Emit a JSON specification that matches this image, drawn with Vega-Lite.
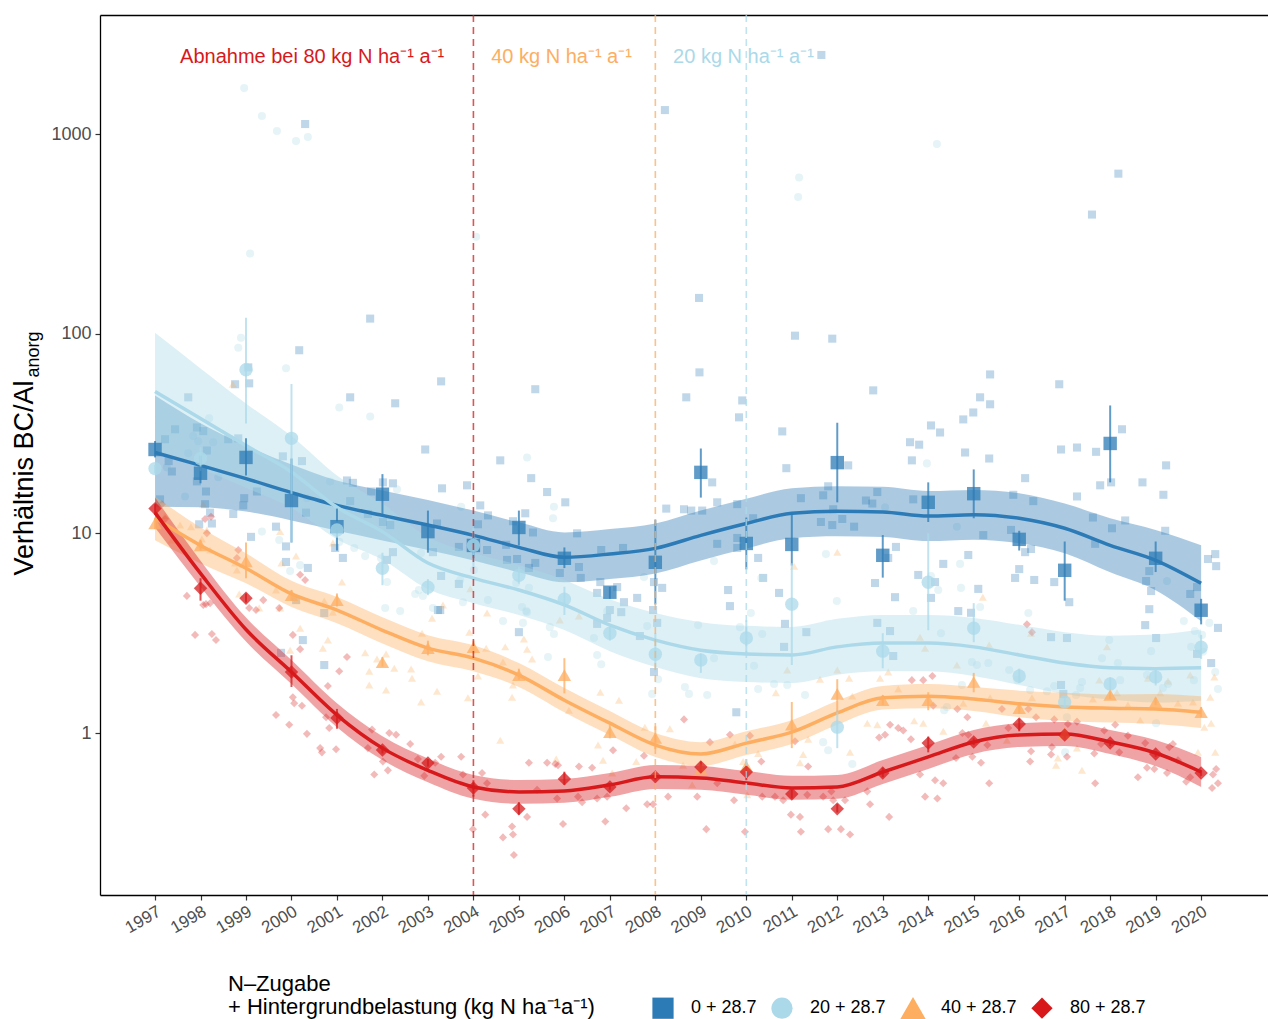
{
"$schema":"https://vega.github.io/schema/vega-lite/v6.json",
"width":1168,"height":880,
"autosize":{"type":"none"},
"padding":{"left":100,"top":15,"right":0,"bottom":124},
"background":"white",
"config":{"font":"Liberation Sans","view":{"stroke":null},
"axis":{"grid":false,"domainColor":"black","domainWidth":1.3,"tickColor":"#333333","tickWidth":1.2,"tickSize":5,"labelColor":"#4d4d4d","labelFont":"Liberation Sans","titleFont":"Liberation Sans","titleFontWeight":"normal","titleColor":"black"}},
"datasets":{
"pts":[
{"g":0,"x":1997.73,"y":48},{"g":0,"x":1999.05,"y":67.8},{"g":0,"x":1999.07,"y":56.4},{"g":0,"x":1998.76,"y":55.8},{"g":0,"x":2000.17,"y":82.6},{"g":0,"x":2001.29,"y":48},{"g":0,"x":2002.28,"y":44.8},{"g":0,"x":2002.94,"y":26.3},{"g":0,"x":2003.29,"y":57.7},{"g":0,"x":2003.31,"y":16.8},{"g":0,"x":2003.86,"y":17.4},{"g":0,"x":2004.15,"y":13.8},{"g":0,"x":2004.32,"y":12.3},{"g":0,"x":2004.59,"y":23.2},{"g":0,"x":1997.92,"y":33.9},{"g":0,"x":1998.06,"y":32.5},{"g":0,"x":1998.14,"y":26},{"g":0,"x":1997.92,"y":18.2},{"g":0,"x":1998.12,"y":16.2},{"g":0,"x":1998.1,"y":14},{"g":0,"x":1998.21,"y":12.7},{"g":0,"x":1997.97,"y":11.1},{"g":0,"x":1998.25,"y":11.2},{"g":0,"x":1998.61,"y":29.6},{"g":0,"x":1998.83,"y":29.9},{"g":0,"x":1999.24,"y":16.2},{"g":0,"x":1998.96,"y":15},{"g":0,"x":1998.94,"y":13.8},{"g":0,"x":1998.72,"y":12.5},{"g":0,"x":1999.11,"y":9.6},{"g":0,"x":1999.66,"y":10.8},{"g":0,"x":1999.88,"y":8.6},{"g":0,"x":1999.81,"y":24.3},{"g":0,"x":2000.23,"y":23},{"g":0,"x":2000.32,"y":12.7},{"g":0,"x":1999.88,"y":7.19},{"g":0,"x":2000.36,"y":6.71},{"g":0,"x":2000.96,"y":8.45},{"g":0,"x":2001.13,"y":7.53},{"g":0,"x":2001.22,"y":18.4},{"g":0,"x":2001.35,"y":17.9},{"g":0,"x":2001.29,"y":14.5},{"g":0,"x":2001.75,"y":16.2},{"g":0,"x":2001.68,"y":12.5},{"g":0,"x":2002.01,"y":18},{"g":0,"x":2002.23,"y":17.8},{"g":0,"x":2002.01,"y":11.4},{"g":0,"x":2002.17,"y":11},{"g":0,"x":2002.23,"y":8.05},{"g":0,"x":2002.1,"y":7.36},{"g":0,"x":2003.2,"y":11.2},{"g":0,"x":2003.11,"y":8.05},{"g":0,"x":2003.29,"y":6.12},{"g":0,"x":2003.68,"y":8.55},{"g":0,"x":2003.68,"y":5.58},{"g":0,"x":2004.1,"y":11.1},{"g":0,"x":2004.3,"y":8.25},{"g":0,"x":2003.22,"y":4.13},{"g":0,"x":2000.3,"y":1122},{"g":0,"x":2008.21,"y":1318},{"g":0,"x":2008.96,"y":151},{"g":0,"x":2011.65,"y":2488},{"g":0,"x":2018.18,"y":633},{"g":0,"x":2017.6,"y":395},{"g":0,"x":2011.07,"y":97.7},{"g":0,"x":2011.89,"y":94.4},{"g":0,"x":2001.73,"y":119},{"g":0,"x":2005.36,"y":52.7},{"g":0,"x":2012.79,"y":52},{"g":0,"x":2016.88,"y":55.8},{"g":0,"x":2015.36,"y":62.5},{"g":0,"x":2005.27,"y":18.9},{"g":0,"x":2005.62,"y":16.1},{"g":0,"x":2006.02,"y":14.3},{"g":0,"x":2005.14,"y":12.6},{"g":0,"x":2004.87,"y":11.5},{"g":0,"x":2005.31,"y":10.1},{"g":0,"x":2004.72,"y":8.76},{"g":0,"x":2004.74,"y":7.36},{"g":0,"x":2004.96,"y":7.44},{"g":0,"x":2005.36,"y":7.11},{"g":0,"x":2005.22,"y":6.71},{"g":0,"x":2005.9,"y":6.33},{"g":0,"x":2006.28,"y":10},{"g":0,"x":2006.32,"y":6.78},{"g":0,"x":2006.36,"y":5.98},{"g":0,"x":2006.81,"y":8.25},{"g":0,"x":2006.79,"y":5.7},{"g":0,"x":2006.72,"y":5.03},{"g":0,"x":2007.16,"y":5.38},{"g":0,"x":2007.29,"y":8.45},{"g":0,"x":2007.31,"y":4.52},{"g":0,"x":2007.6,"y":4.75},{"g":0,"x":2007.0,"y":4.13},{"g":0,"x":2007.97,"y":5.7},{"g":0,"x":2008.15,"y":5.33},{"g":0,"x":2007.95,"y":4.13},{"g":0,"x":2008.24,"y":13.3},{"g":0,"x":2008.63,"y":13.2},{"g":0,"x":2008.79,"y":13},{"g":0,"x":2009.03,"y":13},{"g":0,"x":2008.68,"y":48},{"g":0,"x":2008.97,"y":64},{"g":0,"x":2009.25,"y":18},{"g":0,"x":2009.36,"y":14.3},{"g":0,"x":2009.36,"y":8.86},{"g":0,"x":2009.8,"y":14},{"g":0,"x":2009.8,"y":9.48},{"g":0,"x":2009.8,"y":8.45},{"g":0,"x":2009.84,"y":38.1},{"g":0,"x":2009.91,"y":46.3},{"g":0,"x":2010.15,"y":11.9},{"g":0,"x":2010.26,"y":7.53},{"g":0,"x":2010.37,"y":5.98},{"g":0,"x":2009.6,"y":5.2},{"g":0,"x":2009.64,"y":4.32},{"g":0,"x":2010.72,"y":5.03},{"g":0,"x":2010.79,"y":32.4},{"g":0,"x":2010.88,"y":21.2},{"g":0,"x":2011.2,"y":15},{"g":0,"x":2011.64,"y":11.4},{"g":0,"x":2011.69,"y":15.5},{"g":0,"x":2011.8,"y":17.2},{"g":0,"x":2011.89,"y":11},{"g":0,"x":2011.91,"y":13.2},{"g":0,"x":2012.11,"y":11.8},{"g":0,"x":2012.24,"y":21.9},{"g":0,"x":2012.37,"y":10.8},{"g":0,"x":2012.63,"y":14.6},{"g":0,"x":2012.77,"y":14.1},{"g":0,"x":2012.88,"y":16.1},{"g":0,"x":2013.12,"y":7.53},{"g":0,"x":2013.27,"y":4.79},{"g":0,"x":2013.29,"y":8.55},{"g":0,"x":2012.83,"y":5.64},{"g":0,"x":2013.67,"y":14.8},{"g":0,"x":2014.06,"y":34.7},{"g":0,"x":2014.26,"y":32},{"g":0,"x":2013.6,"y":28.6},{"g":0,"x":2013.8,"y":27.8},{"g":0,"x":2013.64,"y":23.2},{"g":0,"x":2014.77,"y":37.2},{"g":0,"x":2014.99,"y":40.3},{"g":0,"x":2015.14,"y":48},{"g":0,"x":2015.36,"y":44.3},{"g":0,"x":2014.81,"y":25.4},{"g":0,"x":2015.34,"y":23.7},{"g":0,"x":2015.87,"y":15.6},{"g":0,"x":2016.31,"y":14.5},{"g":0,"x":2016.13,"y":18.9},{"g":0,"x":2015.82,"y":10.4},{"g":0,"x":2015.21,"y":9.8},{"g":0,"x":2014.88,"y":7.79},{"g":0,"x":2014.33,"y":7.03},{"g":0,"x":2013.78,"y":6.19},{"g":0,"x":2014.15,"y":5.7},{"g":0,"x":2014.06,"y":4.75},{"g":0,"x":2015.1,"y":5.27},{"g":0,"x":2014.66,"y":4.08},{"g":0,"x":2014.94,"y":4},{"g":0,"x":2016.0,"y":6.62},{"g":0,"x":2015.91,"y":5.98},{"g":0,"x":2016.33,"y":5.84},{"g":0,"x":2016.13,"y":8.05},{"g":0,"x":2016.26,"y":8.35},{"g":0,"x":2016.77,"y":5.7},{"g":0,"x":2017.1,"y":4.52},{"g":0,"x":2016.92,"y":26.3},{"g":0,"x":2017.27,"y":26.9},{"g":0,"x":2017.69,"y":25.6},{"g":0,"x":2017.27,"y":15.3},{"g":0,"x":2017.78,"y":17.4},{"g":0,"x":2018.02,"y":18},{"g":0,"x":2018.26,"y":33.2},{"g":0,"x":2017.62,"y":12},{"g":0,"x":2017.67,"y":8.86},{"g":0,"x":2018.04,"y":10.6},{"g":0,"x":2018.33,"y":11.6},{"g":0,"x":2018.71,"y":18},{"g":0,"x":2019.17,"y":15.6},{"g":0,"x":2019.23,"y":21.9},{"g":0,"x":2019.21,"y":10.3},{"g":0,"x":2018.86,"y":6.47},{"g":0,"x":2018.79,"y":5.77},{"g":0,"x":2018.9,"y":5.14},{"g":0,"x":2018.86,"y":4.17},{"g":0,"x":2019.76,"y":4.97},{"g":0,"x":2019.91,"y":5.38},{"g":0,"x":2020.15,"y":7.44},{"g":0,"x":2020.31,"y":7.87},{"g":0,"x":2020.33,"y":6.85},{"g":0,"x":2016.7,"y":3.02},{"g":0,"x":2017.05,"y":2.99},{"g":0,"x":2016.92,"y":1.74},{"g":0,"x":2016.97,"y":1.57},{"g":0,"x":2018.77,"y":3.47},{"g":0,"x":2019.01,"y":2.99},{"g":0,"x":2020.22,"y":2.24},{"g":0,"x":2020.37,"y":3.36},{"g":0,"x":2019.91,"y":2.49},{"g":0,"x":2005.0,"y":3.2},{"g":0,"x":2006.72,"y":3.52},{"g":0,"x":2006.94,"y":3.77},{"g":0,"x":2007.25,"y":4.03},{"g":0,"x":2007.66,"y":3.06},{"g":0,"x":2008.04,"y":3.56},{"g":0,"x":2007.97,"y":2.02},{"g":0,"x":2009.78,"y":1.27},{"g":0,"x":2010.85,"y":3.52},{"g":0,"x":2010.83,"y":2.7},{"g":0,"x":2011.32,"y":3.2},{"g":0,"x":2012.88,"y":3.56},{"g":0,"x":2013.16,"y":3.24},{"g":0,"x":2013.23,"y":2.43},{"g":0,"x":2000.1,"y":4.63},{"g":0,"x":2000.25,"y":2.92},{"g":0,"x":1999.77,"y":2.52},{"g":0,"x":2000.72,"y":2.19},{"g":0,"x":2000.72,"y":3.99},{"g":0,"x":2003.27,"y":4.13},{"g":0,"x":1997.22,"y":29.6},{"g":0,"x":1997.37,"y":20.4},{"g":0,"x":1997.11,"y":14.8},{"g":0,"x":1997.44,"y":33.2},{"g":0,"x":1997.3,"y":23},
{"g":20,"x":1998.96,"y":1698},{"g":20,"x":1999.35,"y":1230},{"g":20,"x":1999.68,"y":1035},{"g":20,"x":2000.1,"y":923},{"g":20,"x":2000.36,"y":966},{"g":20,"x":1999.09,"y":252},{"g":20,"x":2004.06,"y":306},{"g":20,"x":2011.16,"y":605},{"g":20,"x":2011.14,"y":484},{"g":20,"x":2014.19,"y":891},{"g":20,"x":1998.89,"y":95.5},{"g":20,"x":1998.83,"y":85},{"g":20,"x":1999.88,"y":67.1},{"g":20,"x":2001.05,"y":42.7},{"g":20,"x":2001.73,"y":38.5},{"g":20,"x":1998.19,"y":37.7},{"g":20,"x":1997.84,"y":30.7},{"g":20,"x":1997.95,"y":28.9},{"g":20,"x":1998.28,"y":28.6},{"g":20,"x":1997.73,"y":25.2},{"g":20,"x":1997.26,"y":21.4},{"g":20,"x":1998.39,"y":19.1},{"g":20,"x":1997.66,"y":15.3},{"g":20,"x":1999.35,"y":10.2},{"g":20,"x":1999.73,"y":9.26},{"g":20,"x":1999.97,"y":6.47},{"g":20,"x":2000.19,"y":6.93},{"g":20,"x":2000.34,"y":15},{"g":20,"x":2000.85,"y":18.2},{"g":20,"x":2001.05,"y":9.06},{"g":20,"x":2001.38,"y":8.45},{"g":20,"x":2001.62,"y":7.69},{"g":20,"x":2001.97,"y":7.5},{"g":20,"x":2002.1,"y":5.7},{"g":20,"x":2002.32,"y":16.6},{"g":20,"x":2002.8,"y":5.2},{"g":20,"x":2002.72,"y":4.97},{"g":20,"x":2002.89,"y":4.86},{"g":20,"x":2003.73,"y":13.6},{"g":20,"x":2003.71,"y":5.84},{"g":20,"x":2003.77,"y":4.52},{"g":20,"x":2004.32,"y":4.63},{"g":20,"x":2004.01,"y":6.55},{"g":20,"x":2002.85,"y":7.98},{"g":20,"x":2002.06,"y":4.23},{"g":20,"x":2002.39,"y":4.08},{"g":20,"x":2003.11,"y":4.23},{"g":20,"x":2005.18,"y":24},{"g":20,"x":2005.77,"y":13.6},{"g":20,"x":2005.75,"y":11.9},{"g":20,"x":2004.94,"y":5.64},{"g":20,"x":2005.22,"y":5.33},{"g":20,"x":2005.07,"y":4.28},{"g":20,"x":2005.16,"y":4.08},{"g":20,"x":2006.94,"y":4.08},{"g":20,"x":2007.75,"y":6.05},{"g":20,"x":2009.29,"y":7.27},{"g":20,"x":2010.1,"y":3.99},{"g":20,"x":2010.33,"y":5.98},{"g":20,"x":2011.75,"y":7.87},{"g":20,"x":2011.99,"y":4.58},{"g":20,"x":2013.05,"y":13.5},{"g":20,"x":2013.97,"y":22.4},{"g":20,"x":2014.63,"y":10.8},{"g":20,"x":2014.7,"y":7.03},{"g":20,"x":2014.06,"y":6.12},{"g":20,"x":2014.22,"y":5.2},{"g":20,"x":2014.72,"y":5.33},{"g":20,"x":2013.67,"y":4.08},{"g":20,"x":2015.14,"y":4.28},{"g":20,"x":2016.2,"y":3.99},{"g":20,"x":2019.25,"y":5.77},{"g":20,"x":2004.65,"y":3.64},{"g":20,"x":2005.09,"y":3.56},{"g":20,"x":2005.18,"y":4.03},{"g":20,"x":2005.68,"y":3.39},{"g":20,"x":2005.77,"y":3.13},{"g":20,"x":2005.64,"y":2.4},{"g":20,"x":2006.65,"y":2.99},{"g":20,"x":2006.72,"y":2.46},{"g":20,"x":2006.81,"y":2.21},{"g":20,"x":2007.82,"y":3.43},{"g":20,"x":2007.93,"y":1.57},{"g":20,"x":2008.06,"y":1.86},{"g":20,"x":2008.65,"y":1.7},{"g":20,"x":2008.74,"y":1.57},{"g":20,"x":2009.14,"y":1.55},{"g":20,"x":2008.94,"y":3.47},{"g":20,"x":2009.29,"y":2.37},{"g":20,"x":2009.86,"y":3.39},{"g":20,"x":2010.35,"y":3.13},{"g":20,"x":2010.17,"y":2.17},{"g":20,"x":2010.26,"y":1.66},{"g":20,"x":2010.61,"y":1.76},{"g":20,"x":2010.9,"y":1.74},{"g":20,"x":2011.29,"y":1.55},{"g":20,"x":2012.33,"y":0.7},{"g":20,"x":2011.69,"y":0.9},{"g":20,"x":2011.8,"y":0.82},{"g":20,"x":2014.28,"y":3.16},{"g":20,"x":2014.35,"y":1.3},{"g":20,"x":2014.41,"y":1.35},{"g":20,"x":2014.74,"y":1.74},{"g":20,"x":2014.96,"y":2.27},{"g":20,"x":2015.07,"y":2.19},{"g":20,"x":2015.32,"y":2.24},{"g":20,"x":2015.78,"y":2.07},{"g":20,"x":2015.96,"y":1.84},{"g":20,"x":2016.24,"y":1.64},{"g":20,"x":2016.61,"y":1.62},{"g":20,"x":2016.77,"y":1.72},{"g":20,"x":2017.01,"y":0.8},{"g":20,"x":2017.05,"y":1.2},{"g":20,"x":2017.25,"y":1.55},{"g":20,"x":2017.34,"y":1.68},{"g":20,"x":2017.38,"y":1.8},{"g":20,"x":2017.82,"y":2.37},{"g":20,"x":2017.98,"y":2.92},{"g":20,"x":2018.17,"y":2.24},{"g":20,"x":2018.22,"y":1.84},{"g":20,"x":2018.81,"y":1.95},{"g":20,"x":2018.9,"y":2.57},{"g":20,"x":2019.01,"y":1.12},{"g":20,"x":2019.16,"y":1.68},{"g":20,"x":2019.27,"y":1.76},{"g":20,"x":2019.62,"y":3.64},{"g":20,"x":2019.78,"y":2.7},{"g":20,"x":2019.86,"y":3.24},{"g":20,"x":2020.02,"y":3.1},{"g":20,"x":2020.04,"y":2.55},{"g":20,"x":2020.18,"y":3.56},{"g":20,"x":2020.31,"y":2.02},{"g":20,"x":2020.37,"y":1.66},{"g":20,"x":2019.84,"y":1.84},
{"g":40,"x":1998.71,"y":55.8},{"g":40,"x":1998.06,"y":14},{"g":40,"x":1997.79,"y":10.8},{"g":40,"x":1998.14,"y":10.4},{"g":40,"x":1998.03,"y":9.38},{"g":40,"x":1998.01,"y":8.76},{"g":40,"x":1998.21,"y":8.25},{"g":40,"x":1998.76,"y":7.11},{"g":40,"x":1998.8,"y":6.55},{"g":40,"x":1999.75,"y":10.2},{"g":40,"x":2000.1,"y":7.69},{"g":40,"x":1999.78,"y":7.11},{"g":40,"x":2000.91,"y":8.95},{"g":40,"x":2001.11,"y":5.7},{"g":40,"x":1999.29,"y":4.23},{"g":40,"x":2000.12,"y":4.63},{"g":40,"x":1998.85,"y":4.97},{"g":40,"x":2000.72,"y":4.58},{"g":40,"x":1999.66,"y":5.2},{"g":40,"x":2000.91,"y":4.03},{"g":40,"x":2003.33,"y":4.38},{"g":40,"x":2003.93,"y":5.27},{"g":40,"x":2004.3,"y":3.99},{"g":40,"x":1999.75,"y":4.23},{"g":40,"x":2000.19,"y":3.35},{"g":40,"x":1999.97,"y":2.6},{"g":40,"x":2000.69,"y":2.66},{"g":40,"x":2000.8,"y":2.92},{"g":40,"x":2001.71,"y":2.04},{"g":40,"x":2001.88,"y":2.35},{"g":40,"x":2002.08,"y":2.49},{"g":40,"x":2001.71,"y":1.74},{"g":40,"x":2002.08,"y":1.64},{"g":40,"x":2002.26,"y":2.11},{"g":40,"x":2002.63,"y":2.09},{"g":40,"x":2002.65,"y":1.88},{"g":40,"x":2002.85,"y":1.43},{"g":40,"x":2003.2,"y":1.62},{"g":40,"x":2002.87,"y":3.16},{"g":40,"x":2003.09,"y":3.76},{"g":40,"x":2003.88,"y":1.5},{"g":40,"x":2003.91,"y":3.2},{"g":40,"x":2004.1,"y":1.93},{"g":40,"x":2004.28,"y":2.66},{"g":40,"x":2004.59,"y":0.92},{"g":40,"x":2001.62,"y":2.52},{"g":40,"x":1997.22,"y":12.3},{"g":40,"x":1997.37,"y":9.26},{"g":40,"x":1997.55,"y":11},{"g":40,"x":2004.7,"y":2.7},{"g":40,"x":2005.11,"y":2.96},{"g":40,"x":2005.18,"y":2.63},{"g":40,"x":2005.29,"y":2.35},{"g":40,"x":2004.65,"y":2.27},{"g":40,"x":2004.85,"y":1.51},{"g":40,"x":2004.87,"y":1.74},{"g":40,"x":2005.9,"y":3.68},{"g":40,"x":2006.32,"y":3.85},{"g":40,"x":2006.1,"y":1.3},{"g":40,"x":2005.82,"y":0.74},{"g":40,"x":2006.79,"y":1.6},{"g":40,"x":2007.2,"y":1.46},{"g":40,"x":2006.74,"y":0.87},{"g":40,"x":2006.85,"y":0.73},{"g":40,"x":2007.05,"y":0.63},{"g":40,"x":2007.77,"y":1.07},{"g":40,"x":2008.32,"y":1.05},{"g":40,"x":2007.58,"y":0.72},{"g":40,"x":2008.61,"y":0.69},{"g":40,"x":2008.81,"y":0.55},{"g":40,"x":2009.75,"y":0.88},{"g":40,"x":2009.93,"y":0.72},{"g":40,"x":2010.26,"y":0.79},{"g":40,"x":2010.02,"y":0.49},{"g":40,"x":2010.65,"y":1.59},{"g":40,"x":2010.9,"y":2.07},{"g":40,"x":2011.18,"y":0.71},{"g":40,"x":2011.25,"y":0.78},{"g":40,"x":2011.36,"y":0.93},{"g":40,"x":2011.62,"y":1.86},{"g":40,"x":2012.28,"y":0.8},{"g":40,"x":2012.33,"y":1.53},{"g":40,"x":2012.26,"y":1.88},{"g":40,"x":2012.0,"y":2.07},{"g":40,"x":2012.94,"y":1.88},{"g":40,"x":2013.12,"y":2.02},{"g":40,"x":2012.66,"y":1.12},{"g":40,"x":2012.88,"y":1.1},{"g":40,"x":2013.34,"y":1.66},{"g":40,"x":2013.82,"y":3.02},{"g":40,"x":2013.93,"y":2.66},{"g":40,"x":2014.63,"y":2.19},{"g":40,"x":2015.34,"y":2.76},{"g":40,"x":2013.69,"y":1.15},{"g":40,"x":2013.89,"y":1.12},{"g":40,"x":2014.33,"y":1.02},{"g":40,"x":2014.77,"y":1.41},{"g":40,"x":2015.27,"y":1.12},{"g":40,"x":2015.36,"y":1.5},{"g":40,"x":2015.73,"y":0.92},{"g":40,"x":2016.26,"y":3.16},{"g":40,"x":2016.28,"y":1.5},{"g":40,"x":2016.85,"y":0.75},{"g":40,"x":2016.81,"y":0.69},{"g":40,"x":2017.27,"y":0.84},{"g":40,"x":2017.38,"y":0.65},{"g":40,"x":2017.62,"y":1.48},{"g":40,"x":2017.76,"y":1.84},{"g":40,"x":2017.93,"y":2.7},{"g":40,"x":2018.15,"y":1.59},{"g":40,"x":2018.39,"y":1.38},{"g":40,"x":2018.66,"y":1.16},{"g":40,"x":2018.83,"y":1.88},{"g":40,"x":2019.1,"y":1.59},{"g":40,"x":2019.27,"y":1.82},{"g":40,"x":2019.49,"y":1.41},{"g":40,"x":2019.76,"y":1.95},{"g":40,"x":2019.82,"y":1.43},{"g":40,"x":2019.93,"y":0.8},{"g":40,"x":2020.07,"y":1.07},{"g":40,"x":2020.2,"y":1.51},{"g":40,"x":2020.22,"y":1.12},{"g":40,"x":2020.31,"y":0.8},{"g":40,"x":2020.29,"y":1.91},{"g":40,"x":2011.05,"y":6.85},{"g":40,"x":2012.0,"y":8.05},{"g":40,"x":2015.2,"y":4.79},
{"g":80,"x":1997.15,"y":14},{"g":80,"x":1997.22,"y":11.8},{"g":80,"x":1997.88,"y":3.1},{"g":80,"x":1998.06,"y":4.38},{"g":80,"x":1998.21,"y":4.47},{"g":80,"x":1998.25,"y":3.13},{"g":80,"x":1998.34,"y":2.92},{"g":80,"x":1997.7,"y":4.86},{"g":80,"x":1998.12,"y":4.42},{"g":80,"x":1998.1,"y":11.8},{"g":80,"x":1998.23,"y":12.1},{"g":80,"x":1998.14,"y":10},{"g":80,"x":1998.83,"y":8.25},{"g":80,"x":1998.8,"y":7.53},{"g":80,"x":2000.19,"y":6.2},{"g":80,"x":2000.3,"y":5.84},{"g":80,"x":1999.38,"y":4.63},{"g":80,"x":1999.22,"y":4.13},{"g":80,"x":1999.07,"y":4.23},{"g":80,"x":1999.73,"y":4.23},{"g":80,"x":2000.03,"y":3.1},{"g":80,"x":2000.19,"y":2.63},{"g":80,"x":2000.03,"y":1.51},{"g":80,"x":2000.23,"y":1.37},{"g":80,"x":2000.06,"y":1.41},{"g":80,"x":1999.66,"y":1.23},{"g":80,"x":1999.95,"y":1.1},{"g":80,"x":2000.34,"y":0.99},{"g":80,"x":2000.8,"y":1.72},{"g":80,"x":2001.05,"y":2.04},{"g":80,"x":2001.22,"y":2.4},{"g":80,"x":2000.76,"y":1.2},{"g":80,"x":2000.83,"y":1.06},{"g":80,"x":2000.63,"y":0.84},{"g":80,"x":2000.67,"y":0.8},{"g":80,"x":2000.98,"y":0.83},{"g":80,"x":2001.77,"y":1.04},{"g":80,"x":2001.68,"y":0.84},{"g":80,"x":2001.82,"y":0.62},{"g":80,"x":2002.01,"y":0.72},{"g":80,"x":2002.15,"y":1},{"g":80,"x":2002.3,"y":0.98},{"g":80,"x":2002.12,"y":0.65},{"g":80,"x":2002.61,"y":0.88},{"g":80,"x":2002.78,"y":0.74},{"g":80,"x":2002.92,"y":0.61},{"g":80,"x":2003.16,"y":0.71},{"g":80,"x":2003.29,"y":0.76},{"g":80,"x":2003.73,"y":0.76},{"g":80,"x":2003.77,"y":0.62},{"g":80,"x":2004.19,"y":0.63},{"g":80,"x":2004.3,"y":0.56},{"g":80,"x":2004.26,"y":0.39},{"g":80,"x":2003.99,"y":0.33},{"g":80,"x":2005.22,"y":0.71},{"g":80,"x":2005.62,"y":0.71},{"g":80,"x":2005.8,"y":0.7},{"g":80,"x":2005.86,"y":0.69},{"g":80,"x":2006.32,"y":0.68},{"g":80,"x":2006.61,"y":0.67},{"g":80,"x":2007.07,"y":0.82},{"g":80,"x":2007.75,"y":0.77},{"g":80,"x":2008.63,"y":1.17},{"g":80,"x":2009.2,"y":0.9},{"g":80,"x":2009.64,"y":0.98},{"g":80,"x":2010.08,"y":0.97},{"g":80,"x":2010.33,"y":0.72},{"g":80,"x":2004.65,"y":0.3},{"g":80,"x":2004.85,"y":0.34},{"g":80,"x":2004.87,"y":0.31},{"g":80,"x":2004.89,"y":0.245},{"g":80,"x":2005.18,"y":0.38},{"g":80,"x":2005.4,"y":0.52},{"g":80,"x":2005.84,"y":0.47},{"g":80,"x":2005.97,"y":0.35},{"g":80,"x":2006.3,"y":0.48},{"g":80,"x":2006.39,"y":0.45},{"g":80,"x":2006.72,"y":0.47},{"g":80,"x":2006.9,"y":0.36},{"g":80,"x":2006.94,"y":0.48},{"g":80,"x":2007.36,"y":0.42},{"g":80,"x":2007.82,"y":0.44},{"g":80,"x":2007.95,"y":0.44},{"g":80,"x":2008.28,"y":0.48},{"g":80,"x":2008.92,"y":0.48},{"g":80,"x":2009.12,"y":0.33},{"g":80,"x":2009.36,"y":0.56},{"g":80,"x":2009.73,"y":0.46},{"g":80,"x":2009.97,"y":0.32},{"g":80,"x":2010.35,"y":0.48},{"g":80,"x":2010.63,"y":0.48},{"g":80,"x":2010.81,"y":0.46},{"g":80,"x":2010.98,"y":0.39},{"g":80,"x":2011.18,"y":0.38},{"g":80,"x":2011.2,"y":0.32},{"g":80,"x":2011.07,"y":0.91},{"g":80,"x":2011.34,"y":0.49},{"g":80,"x":2011.36,"y":0.68},{"g":80,"x":2011.69,"y":0.48},{"g":80,"x":2011.87,"y":0.51},{"g":80,"x":2011.8,"y":0.33},{"g":80,"x":2011.91,"y":0.46},{"g":80,"x":2012.08,"y":0.33},{"g":80,"x":2012.17,"y":0.46},{"g":80,"x":2012.28,"y":0.31},{"g":80,"x":2012.66,"y":0.51},{"g":80,"x":2012.72,"y":0.44},{"g":80,"x":2012.92,"y":0.95},{"g":80,"x":2013.05,"y":0.98},{"g":80,"x":2013.14,"y":0.38},{"g":80,"x":2013.16,"y":1.1},{"g":80,"x":2013.34,"y":1.06},{"g":80,"x":2013.64,"y":1.84},{"g":80,"x":2013.89,"y":1.84},{"g":80,"x":2014.09,"y":1.93},{"g":80,"x":2014.11,"y":1.37},{"g":80,"x":2013.62,"y":0.93},{"g":80,"x":2013.82,"y":0.62},{"g":80,"x":2013.93,"y":0.48},{"g":80,"x":2014.15,"y":0.58},{"g":80,"x":2014.2,"y":0.47},{"g":80,"x":2014.33,"y":0.56},{"g":80,"x":2014.61,"y":0.75},{"g":80,"x":2014.64,"y":1.32},{"g":80,"x":2014.75,"y":1},{"g":80,"x":2014.86,"y":1.2},{"g":80,"x":2014.88,"y":0.98},{"g":80,"x":2014.97,"y":0.76},{"g":80,"x":2015.16,"y":0.71},{"g":80,"x":2015.3,"y":0.87},{"g":80,"x":2015.34,"y":0.56},{"g":80,"x":2015.62,"y":1.32},{"g":80,"x":2015.76,"y":1.06},{"g":80,"x":2016.2,"y":1.32},{"g":80,"x":2016.26,"y":0.81},{"g":80,"x":2016.24,"y":0.72},{"g":80,"x":2016.37,"y":1.2},{"g":80,"x":2016.17,"y":3.5},{"g":80,"x":2016.28,"y":3.2},{"g":80,"x":2016.77,"y":1.17},{"g":80,"x":2016.72,"y":0.85},{"g":80,"x":2016.7,"y":0.78},{"g":80,"x":2017.05,"y":0.76},{"g":80,"x":2017.07,"y":1.11},{"g":80,"x":2017.27,"y":1.14},{"g":80,"x":2017.65,"y":0.79},{"g":80,"x":2017.67,"y":0.56},{"g":80,"x":2017.8,"y":0.88},{"g":80,"x":2017.87,"y":1.03},{"g":80,"x":2018.11,"y":1.1},{"g":80,"x":2018.2,"y":0.8},{"g":80,"x":2018.39,"y":0.97},{"g":80,"x":2018.61,"y":0.6},{"g":80,"x":2018.81,"y":0.67},{"g":80,"x":2018.97,"y":0.66},{"g":80,"x":2018.77,"y":0.89},{"g":80,"x":2019.25,"y":0.63},{"g":80,"x":2019.3,"y":0.85},{"g":80,"x":2019.38,"y":0.88},{"g":80,"x":2019.49,"y":0.73},{"g":80,"x":2019.67,"y":0.57},{"g":80,"x":2019.76,"y":0.6},{"g":80,"x":2020.24,"y":0.53},{"g":80,"x":2020.26,"y":0.62},{"g":80,"x":2020.33,"y":0.66},{"g":80,"x":2020.37,"y":0.56},{"g":80,"x":2013.45,"y":1.03}
],
"smooth":[
{"g":0,"x":1997,"fit":25.4,"lo":13.6,"hi":49},{"g":0,"x":1998,"fit":21.9,"lo":13.5,"hi":35.6},{"g":0,"x":1999,"fit":18.8,"lo":12.85,"hi":27.5},{"g":0,"x":2000,"fit":16,"lo":11.6,"hi":22.1},{"g":0,"x":2001,"fit":13.8,"lo":10.3,"hi":18.4},{"g":0,"x":2002,"fit":12.3,"lo":9.22,"hi":16.4},{"g":0,"x":2003,"fit":11,"lo":8.25,"hi":14.7},{"g":0,"x":2004,"fit":9.77,"lo":7.32,"hi":13},{"g":0,"x":2005,"fit":8.51,"lo":6.38,"hi":11.35},{"g":0,"x":2006,"fit":7.59,"lo":5.69,"hi":10.1},{"g":0,"x":2007,"fit":7.88,"lo":5.91,"hi":10.5},{"g":0,"x":2008,"fit":8.41,"lo":6.3,"hi":11.2},{"g":0,"x":2009,"fit":9.77,"lo":7.32,"hi":13},{"g":0,"x":2010,"fit":11.2,"lo":8.4,"hi":14.9},{"g":0,"x":2011,"fit":12.6,"lo":9.45,"hi":16.8},{"g":0,"x":2012,"fit":12.9,"lo":9.67,"hi":17.2},{"g":0,"x":2013,"fit":12.8,"lo":9.6,"hi":17.1},{"g":0,"x":2014,"fit":12.2,"lo":9.15,"hi":16.3},{"g":0,"x":2015,"fit":12.4,"lo":9.3,"hi":16.5},{"g":0,"x":2016,"fit":11.9,"lo":8.92,"hi":15.9},{"g":0,"x":2017,"fit":10.6,"lo":7.95,"hi":14.1},{"g":0,"x":2018,"fit":8.71,"lo":6.38,"hi":11.9},{"g":0,"x":2019,"fit":7.33,"lo":5.19,"hi":10.4},{"g":0,"x":2020,"fit":5.62,"lo":3.63,"hi":8.71},
{"g":20,"x":1997,"fit":51.3,"lo":26,"hi":101},{"g":20,"x":1998,"fit":37.6,"lo":21.1,"hi":67},{"g":20,"x":1999,"fit":27.5,"lo":16.9,"hi":44.7},{"g":20,"x":2000,"fit":20.3,"lo":13.4,"hi":30.7},{"g":20,"x":2001,"fit":13.5,"lo":9.34,"hi":19.5},{"g":20,"x":2002,"fit":10.2,"lo":7.38,"hi":14.1},{"g":20,"x":2003,"fit":7.1,"lo":5.26,"hi":9.58},{"g":20,"x":2004,"fit":5.97,"lo":4.47,"hi":7.96},{"g":20,"x":2005,"fit":5.2,"lo":3.9,"hi":6.94},{"g":20,"x":2006,"fit":4.38,"lo":3.28,"hi":5.84},{"g":20,"x":2007,"fit":3.47,"lo":2.57,"hi":4.68},{"g":20,"x":2008,"fit":2.92,"lo":2.14,"hi":3.99},{"g":20,"x":2009,"fit":2.6,"lo":1.88,"hi":3.59},{"g":20,"x":2010,"fit":2.49,"lo":1.8,"hi":3.44},{"g":20,"x":2011,"fit":2.46,"lo":1.78,"hi":3.4},{"g":20,"x":2012,"fit":2.7,"lo":1.96,"hi":3.73},{"g":20,"x":2013,"fit":2.82,"lo":2.04,"hi":3.9},{"g":20,"x":2014,"fit":2.82,"lo":2.04,"hi":3.9},{"g":20,"x":2015,"fit":2.7,"lo":1.93,"hi":3.77},{"g":20,"x":2016,"fit":2.46,"lo":1.74,"hi":3.48},{"g":20,"x":2017,"fit":2.24,"lo":1.57,"hi":3.2},{"g":20,"x":2018,"fit":2.12,"lo":1.47,"hi":3.07},{"g":20,"x":2019,"fit":2.1,"lo":1.42,"hi":3.11},{"g":20,"x":2020,"fit":2.12,"lo":1.45,"hi":3.3},
{"g":40,"x":1997,"fit":11.9,"lo":9.23,"hi":15.3},{"g":40,"x":1998,"fit":8.7,"lo":7.07,"hi":10.7},{"g":40,"x":1999,"fit":6.68,"lo":5.62,"hi":7.94},{"g":40,"x":2000,"fit":4.97,"lo":4.28,"hi":5.78},{"g":40,"x":2001,"fit":4.13,"lo":3.55,"hi":4.8},{"g":40,"x":2002,"fit":3.27,"lo":2.81,"hi":3.8},{"g":40,"x":2003,"fit":2.66,"lo":2.29,"hi":3.09},{"g":40,"x":2004,"fit":2.37,"lo":2.04,"hi":2.75},{"g":40,"x":2005,"fit":1.95,"lo":1.7,"hi":2.24},{"g":40,"x":2006,"fit":1.46,"lo":1.27,"hi":1.68},{"g":40,"x":2007,"fit":1.12,"lo":0.976,"hi":1.29},{"g":40,"x":2008,"fit":0.87,"lo":0.758,"hi":1},{"g":40,"x":2009,"fit":0.785,"lo":0.684,"hi":0.9},{"g":40,"x":2010,"fit":0.89,"lo":0.775,"hi":1.02},{"g":40,"x":2011,"fit":1.01,"lo":0.88,"hi":1.16},{"g":40,"x":2012,"fit":1.26,"lo":1.1,"hi":1.45},{"g":40,"x":2013,"fit":1.5,"lo":1.31,"hi":1.72},{"g":40,"x":2014,"fit":1.53,"lo":1.33,"hi":1.76},{"g":40,"x":2015,"fit":1.48,"lo":1.29,"hi":1.7},{"g":40,"x":2016,"fit":1.4,"lo":1.2,"hi":1.63},{"g":40,"x":2017,"fit":1.35,"lo":1.15,"hi":1.59},{"g":40,"x":2018,"fit":1.33,"lo":1.13,"hi":1.56},{"g":40,"x":2019,"fit":1.32,"lo":1.11,"hi":1.57},{"g":40,"x":2020,"fit":1.27,"lo":1.06,"hi":1.53},
{"g":80,"x":1997,"fit":12.7,"lo":10.7,"hi":15.1},{"g":80,"x":1998,"fit":6.3,"lo":5.4,"hi":7.3},{"g":80,"x":1999,"fit":3.3,"lo":2.87,"hi":3.79},{"g":80,"x":2000,"fit":2.02,"lo":1.76,"hi":2.32},{"g":80,"x":2001,"fit":1.23,"lo":1.07,"hi":1.41},{"g":80,"x":2002,"fit":0.84,"lo":0.732,"hi":0.964},{"g":80,"x":2003,"fit":0.65,"lo":0.566,"hi":0.746},{"g":80,"x":2004,"fit":0.537,"lo":0.468,"hi":0.616},{"g":80,"x":2005,"fit":0.507,"lo":0.442,"hi":0.582},{"g":80,"x":2006,"fit":0.513,"lo":0.447,"hi":0.589},{"g":80,"x":2007,"fit":0.55,"lo":0.479,"hi":0.631},{"g":80,"x":2008,"fit":0.603,"lo":0.525,"hi":0.692},{"g":80,"x":2009,"fit":0.596,"lo":0.519,"hi":0.684},{"g":80,"x":2010,"fit":0.562,"lo":0.49,"hi":0.645},{"g":80,"x":2011,"fit":0.531,"lo":0.463,"hi":0.61},{"g":80,"x":2012,"fit":0.537,"lo":0.468,"hi":0.616},{"g":80,"x":2013,"fit":0.638,"lo":0.556,"hi":0.732},{"g":80,"x":2014,"fit":0.759,"lo":0.661,"hi":0.871},{"g":80,"x":2015,"fit":0.902,"lo":0.786,"hi":1.035},{"g":80,"x":2016,"fit":0.977,"lo":0.851,"hi":1.12},{"g":80,"x":2017,"fit":0.989,"lo":0.862,"hi":1.135},{"g":80,"x":2018,"fit":0.902,"lo":0.786,"hi":1.035},{"g":80,"x":2019,"fit":0.794,"lo":0.683,"hi":0.922},{"g":80,"x":2020,"fit":0.638,"lo":0.537,"hi":0.759}
],
"means":[
{"g":0,"x":1997,"m":26.3,"lo":24,"hi":29},{"g":0,"x":1998,"m":20,"lo":17.8,"hi":24.5},{"g":0,"x":1999,"m":24,"lo":19.5,"hi":29.9},{"g":0,"x":2000,"m":14.6,"lo":9,"hi":23.7},{"g":0,"x":2001,"m":10.8,"lo":8.2,"hi":13.3},{"g":0,"x":2002,"m":15.7,"lo":12.4,"hi":19.8},{"g":0,"x":2003,"m":10.2,"lo":8,"hi":13},{"g":0,"x":2004,"m":8.7,"lo":7.5,"hi":10},{"g":0,"x":2005,"m":10.7,"lo":8.7,"hi":13},{"g":0,"x":2006,"m":7.5,"lo":6.7,"hi":8.5},{"g":0,"x":2007,"m":5.07,"lo":4.7,"hi":5.4},{"g":0,"x":2008,"m":7.16,"lo":4.4,"hi":11.7},{"g":0,"x":2009,"m":20.2,"lo":15.1,"hi":26.6},{"g":0,"x":2010,"m":8.9,"lo":6.6,"hi":12},{"g":0,"x":2011,"m":8.8,"lo":6.9,"hi":12.6},{"g":0,"x":2012,"m":22.6,"lo":14.3,"hi":35.8},{"g":0,"x":2013,"m":7.76,"lo":6,"hi":9.8},{"g":0,"x":2014,"m":14.3,"lo":11.4,"hi":18},{"g":0,"x":2015,"m":15.8,"lo":11.9,"hi":20.9},{"g":0,"x":2016,"m":9.33,"lo":8.2,"hi":10.3},{"g":0,"x":2017,"m":6.53,"lo":4.6,"hi":9.1},{"g":0,"x":2018,"m":28.2,"lo":18,"hi":43.7},{"g":0,"x":2019,"m":7.5,"lo":6.4,"hi":9.1},{"g":0,"x":2020,"m":4.12,"lo":3.5,"hi":4.7},
{"g":20,"x":1997,"m":21.1,"lo":20,"hi":22},{"g":20,"x":1998,"m":23.7,"lo":20.5,"hi":27},{"g":20,"x":1999,"m":66,"lo":35.5,"hi":120},{"g":20,"x":2000,"m":29.9,"lo":9,"hi":56},{"g":20,"x":2001,"m":10.4,"lo":9.5,"hi":11.5},{"g":20,"x":2002,"m":6.68,"lo":5.5,"hi":8},{"g":20,"x":2003,"m":5.37,"lo":4.9,"hi":5.9},{"g":20,"x":2004,"m":8.7,"lo":6.7,"hi":10.6},{"g":20,"x":2005,"m":6.17,"lo":5.6,"hi":6.8},{"g":20,"x":2006,"m":4.68,"lo":3.9,"hi":5.4},{"g":20,"x":2007,"m":3.16,"lo":2.9,"hi":3.4},{"g":20,"x":2008,"m":2.48,"lo":2.02,"hi":3.16},{"g":20,"x":2009,"m":2.32,"lo":2,"hi":2.5},{"g":20,"x":2010,"m":2.99,"lo":2.5,"hi":3.67},{"g":20,"x":2011,"m":4.42,"lo":2.19,"hi":7.08},{"g":20,"x":2012,"m":1.07,"lo":0.84,"hi":1.3},{"g":20,"x":2013,"m":2.57,"lo":2.11,"hi":3.16},{"g":20,"x":2014,"m":5.69,"lo":3.27,"hi":10},{"g":20,"x":2015,"m":3.35,"lo":2.85,"hi":4.47},{"g":20,"x":2016,"m":1.93,"lo":1.78,"hi":2.1},{"g":20,"x":2017,"m":1.43,"lo":1.35,"hi":1.5},{"g":20,"x":2018,"m":1.76,"lo":1.65,"hi":1.9},{"g":20,"x":2019,"m":1.91,"lo":1.73,"hi":2.1},{"g":20,"x":2020,"m":2.69,"lo":2.35,"hi":3.1},
{"g":40,"x":1997,"m":11.2,"lo":10.5,"hi":12},{"g":40,"x":1998,"m":8.7,"lo":8.2,"hi":9.3},{"g":40,"x":1999,"m":7.24,"lo":5.96,"hi":9},{"g":40,"x":2000,"m":4.9,"lo":4.6,"hi":5.2},{"g":40,"x":2001,"m":4.62,"lo":4.3,"hi":5},{"g":40,"x":2002,"m":2.26,"lo":2.15,"hi":2.4},{"g":40,"x":2003,"m":2.66,"lo":2.45,"hi":2.9},{"g":40,"x":2004,"m":2.69,"lo":2.5,"hi":2.9},{"g":40,"x":2005,"m":1.95,"lo":1.85,"hi":2.1},{"g":40,"x":2006,"m":1.95,"lo":1.58,"hi":2.37},{"g":40,"x":2007,"m":1.01,"lo":0.94,"hi":1.1},{"g":40,"x":2008,"m":0.944,"lo":0.83,"hi":1.08},{"g":40,"x":2009,"m":0.66,"lo":0.63,"hi":0.7},{"g":40,"x":2010,"m":0.68,"lo":0.62,"hi":0.74},{"g":40,"x":2011,"m":1.1,"lo":0.84,"hi":1.43},{"g":40,"x":2012,"m":1.57,"lo":1.27,"hi":1.86},{"g":40,"x":2013,"m":1.46,"lo":1.38,"hi":1.55},{"g":40,"x":2014,"m":1.46,"lo":1.3,"hi":1.6},{"g":40,"x":2015,"m":1.8,"lo":1.6,"hi":2},{"g":40,"x":2016,"m":1.33,"lo":1.25,"hi":1.42},{"g":40,"x":2017,"m":1,"lo":0.95,"hi":1.05},{"g":40,"x":2018,"m":1.55,"lo":1.48,"hi":1.62},{"g":40,"x":2019,"m":1.43,"lo":1.38,"hi":1.5},{"g":40,"x":2020,"m":1.27,"lo":1.2,"hi":1.35},
{"g":80,"x":1997,"m":13.3,"lo":12.5,"hi":14},{"g":80,"x":1998,"m":5.31,"lo":4.6,"hi":5.96},{"g":80,"x":1999,"m":4.73,"lo":4.5,"hi":5},{"g":80,"x":2000,"m":2.02,"lo":1.7,"hi":2.45},{"g":80,"x":2001,"m":1.19,"lo":1.05,"hi":1.32},{"g":80,"x":2002,"m":0.822,"lo":0.79,"hi":0.86},{"g":80,"x":2003,"m":0.708,"lo":0.68,"hi":0.74},{"g":80,"x":2004,"m":0.53,"lo":0.48,"hi":0.58},{"g":80,"x":2005,"m":0.417,"lo":0.39,"hi":0.45},{"g":80,"x":2006,"m":0.589,"lo":0.55,"hi":0.64},{"g":80,"x":2007,"m":0.537,"lo":0.52,"hi":0.56},{"g":80,"x":2008,"m":0.603,"lo":0.58,"hi":0.63},{"g":80,"x":2009,"m":0.676,"lo":0.63,"hi":0.72},{"g":80,"x":2010,"m":0.638,"lo":0.58,"hi":0.69},{"g":80,"x":2011,"m":0.495,"lo":0.47,"hi":0.52},{"g":80,"x":2012,"m":0.417,"lo":0.4,"hi":0.44},{"g":80,"x":2013,"m":0.631,"lo":0.6,"hi":0.67},{"g":80,"x":2014,"m":0.89,"lo":0.8,"hi":0.96},{"g":80,"x":2015,"m":0.902,"lo":0.87,"hi":0.94},{"g":80,"x":2016,"m":1.11,"lo":1.02,"hi":1.18},{"g":80,"x":2017,"m":0.977,"lo":0.94,"hi":1.02},{"g":80,"x":2018,"m":0.891,"lo":0.86,"hi":0.92},{"g":80,"x":2019,"m":0.785,"lo":0.76,"hi":0.81},{"g":80,"x":2020,"m":0.631,"lo":0.61,"hi":0.65}
],
"events":[{"g":80,"x":2004},{"g":40,"x":2008},{"g":20,"x":2010}],
"notes":[{"g":80,"x":1997.55,"y":2270,"t":"Abnahme bei 80 kg N ha⁻¹ a⁻¹"},{"g":40,"x":2004.39,"y":2270,"t":"40 kg N ha⁻¹ a⁻¹"},{"g":20,"x":2008.39,"y":2270,"t":"20 kg N ha⁻¹ a⁻¹"}]
},
"resolve":{"axis":{"y":"independent","x":"independent"}},
"layer":[
{"data":{"name":"pts"},
"mark":{"type":"point","filled":true,"size":65,"opacity":0.3},
"encoding":{
"x":{"field":"x","type":"quantitative","scale":{"domain":[1995.79,2021.47],"nice":false,"zero":false},
"axis":{"values":[1997,1998,1999,2000,2001,2002,2003,2004,2005,2006,2007,2008,2009,2010,2011,2012,2013,2014,2015,2016,2017,2018,2019,2020],"format":"d","labelAngle":-30,"labelAlign":"right","labelBaseline":"top","labelFontSize":17,"labelPadding":3,"labelOverlap":false,"labelFlush":false,"title":null}},
"y":{"field":"y","type":"quantitative","scale":{"type":"log","domain":[0.1544,3945],"nice":false},
"axis":{"values":[1,10,100,1000],"format":"d","labelFontSize":18,"labelPadding":4,"labelOverlap":false,"title":"Verhältnis BC/Al","titleFontSize":27,"titleX":-68,"titleY":560,"titleAngle":270,"titleAlign":"left","titleBaseline":"alphabetic"}},
"color":{"field":"g","type":"nominal","scale":{"domain":[0,20,40,80],"range":["#2c7bb6","#abd9e9","#fdae61","#d7191c"]},
"legend":{"orient":"none","legendX":128,"legendY":982,"direction":"horizontal","title":["N–Zugabe","+ Hintergrundbelastung (kg N ha⁻¹a⁻¹)"],"titleLimit":1000,"titleOrient":"left","titleAnchor":"end","titleBaseline":"bottom","titleFontSize":22,"titleFontWeight":"normal","titleColor":"black","titleLineHeight":23,"titlePadding":57,"labelFontSize":18,"labelColor":"black","labelExpr":"datum.label + ' + 28.7'","symbolSize":450,"symbolOpacity":1,"symbolStrokeWidth":0,"labelOffset":17,"columnPadding":14,"encode":{"symbols":{"update":{"size":{"signal":"datum.value == 40 ? 640 : 450"}}}}}},
"shape":{"field":"g","type":"nominal","scale":{"domain":[0,20,40,80],"range":["square","circle","triangle-up","diamond"]},
"legend":{"orient":"none","legendX":128,"legendY":982,"direction":"horizontal","title":["N–Zugabe","+ Hintergrundbelastung (kg N ha⁻¹a⁻¹)"],"titleLimit":1000,"titleOrient":"left","titleAnchor":"end","titleBaseline":"bottom","titleFontSize":22,"titleFontWeight":"normal","titleColor":"black","titleLineHeight":23,"titlePadding":57,"labelFontSize":18,"labelColor":"black","labelExpr":"datum.label + ' + 28.7'","symbolSize":450,"symbolOpacity":1,"symbolStrokeWidth":0,"labelOffset":17,"columnPadding":14,"encode":{"symbols":{"update":{"size":{"signal":"datum.value == 40 ? 640 : 450"}}}}}}}},
{"data":{"name":"smooth"},
"mark":{"type":"area","opacity":0.4,"interpolate":"monotone"},
"encoding":{"x":{"field":"x","type":"quantitative","axis":null},"y":{"field":"lo","type":"quantitative","axis":null},"y2":{"field":"hi"},
"color":{"field":"g","type":"nominal","legend":null}}},
{"data":{"name":"smooth"},
"mark":{"type":"line","strokeWidth":3.5,"interpolate":"monotone"},
"encoding":{"x":{"field":"x","type":"quantitative","axis":null},
"y":{"field":"fit","type":"quantitative","axis":{"orient":"left","title":"anorg","titleFontSize":18,"titleX":-62,"titleY":362,"titleAngle":270,"titleAlign":"left","titleBaseline":"alphabetic","labels":false,"ticks":false,"domain":false,"values":[]}},
"color":{"field":"g","type":"nominal","legend":null}}},
{"data":{"name":"means"},
"mark":{"type":"rule","strokeWidth":2,"opacity":0.75},
"encoding":{"x":{"field":"x","type":"quantitative","axis":null},"y":{"field":"lo","type":"quantitative","axis":null},"y2":{"field":"hi"},
"color":{"field":"g","type":"nominal","legend":null}}},
{"data":{"name":"means"},
"mark":{"type":"point","filled":true,"size":180,"opacity":0.75},
"encoding":{"x":{"field":"x","type":"quantitative","axis":null},"y":{"field":"m","type":"quantitative","axis":null},
"color":{"field":"g","type":"nominal","legend":null},
"shape":{"field":"g","type":"nominal","legend":null}}},
{"data":{"name":"events"},
"mark":{"type":"rule","strokeWidth":1.6,"strokeDash":[7,5],"opacity":0.75},
"encoding":{"x":{"field":"x","type":"quantitative","axis":{"orient":"top","labels":false,"ticks":false,"domain":true,"domainColor":"black","domainWidth":1.3,"title":null,"values":[]}},"color":{"field":"g","type":"nominal","legend":null}}},
{"data":{"name":"notes"},
"mark":{"type":"text","align":"left","baseline":"alphabetic","fontSize":20,"font":"Liberation Sans"},
"encoding":{"x":{"field":"x","type":"quantitative","axis":null},"y":{"field":"y","type":"quantitative","axis":null},"text":{"field":"t"},
"color":{"field":"g","type":"nominal","legend":null}}},
{"mark":{"type":"rule","color":"black","strokeWidth":1.5},
"encoding":{"x":{"datum":1997,"type":"quantitative","axis":null}}},
{"mark":{"type":"rule","color":"black","strokeWidth":1.5,"strokeDash":[2,4]},
"encoding":{"y":{"datum":7,"type":"quantitative","axis":null}}}
]
}
